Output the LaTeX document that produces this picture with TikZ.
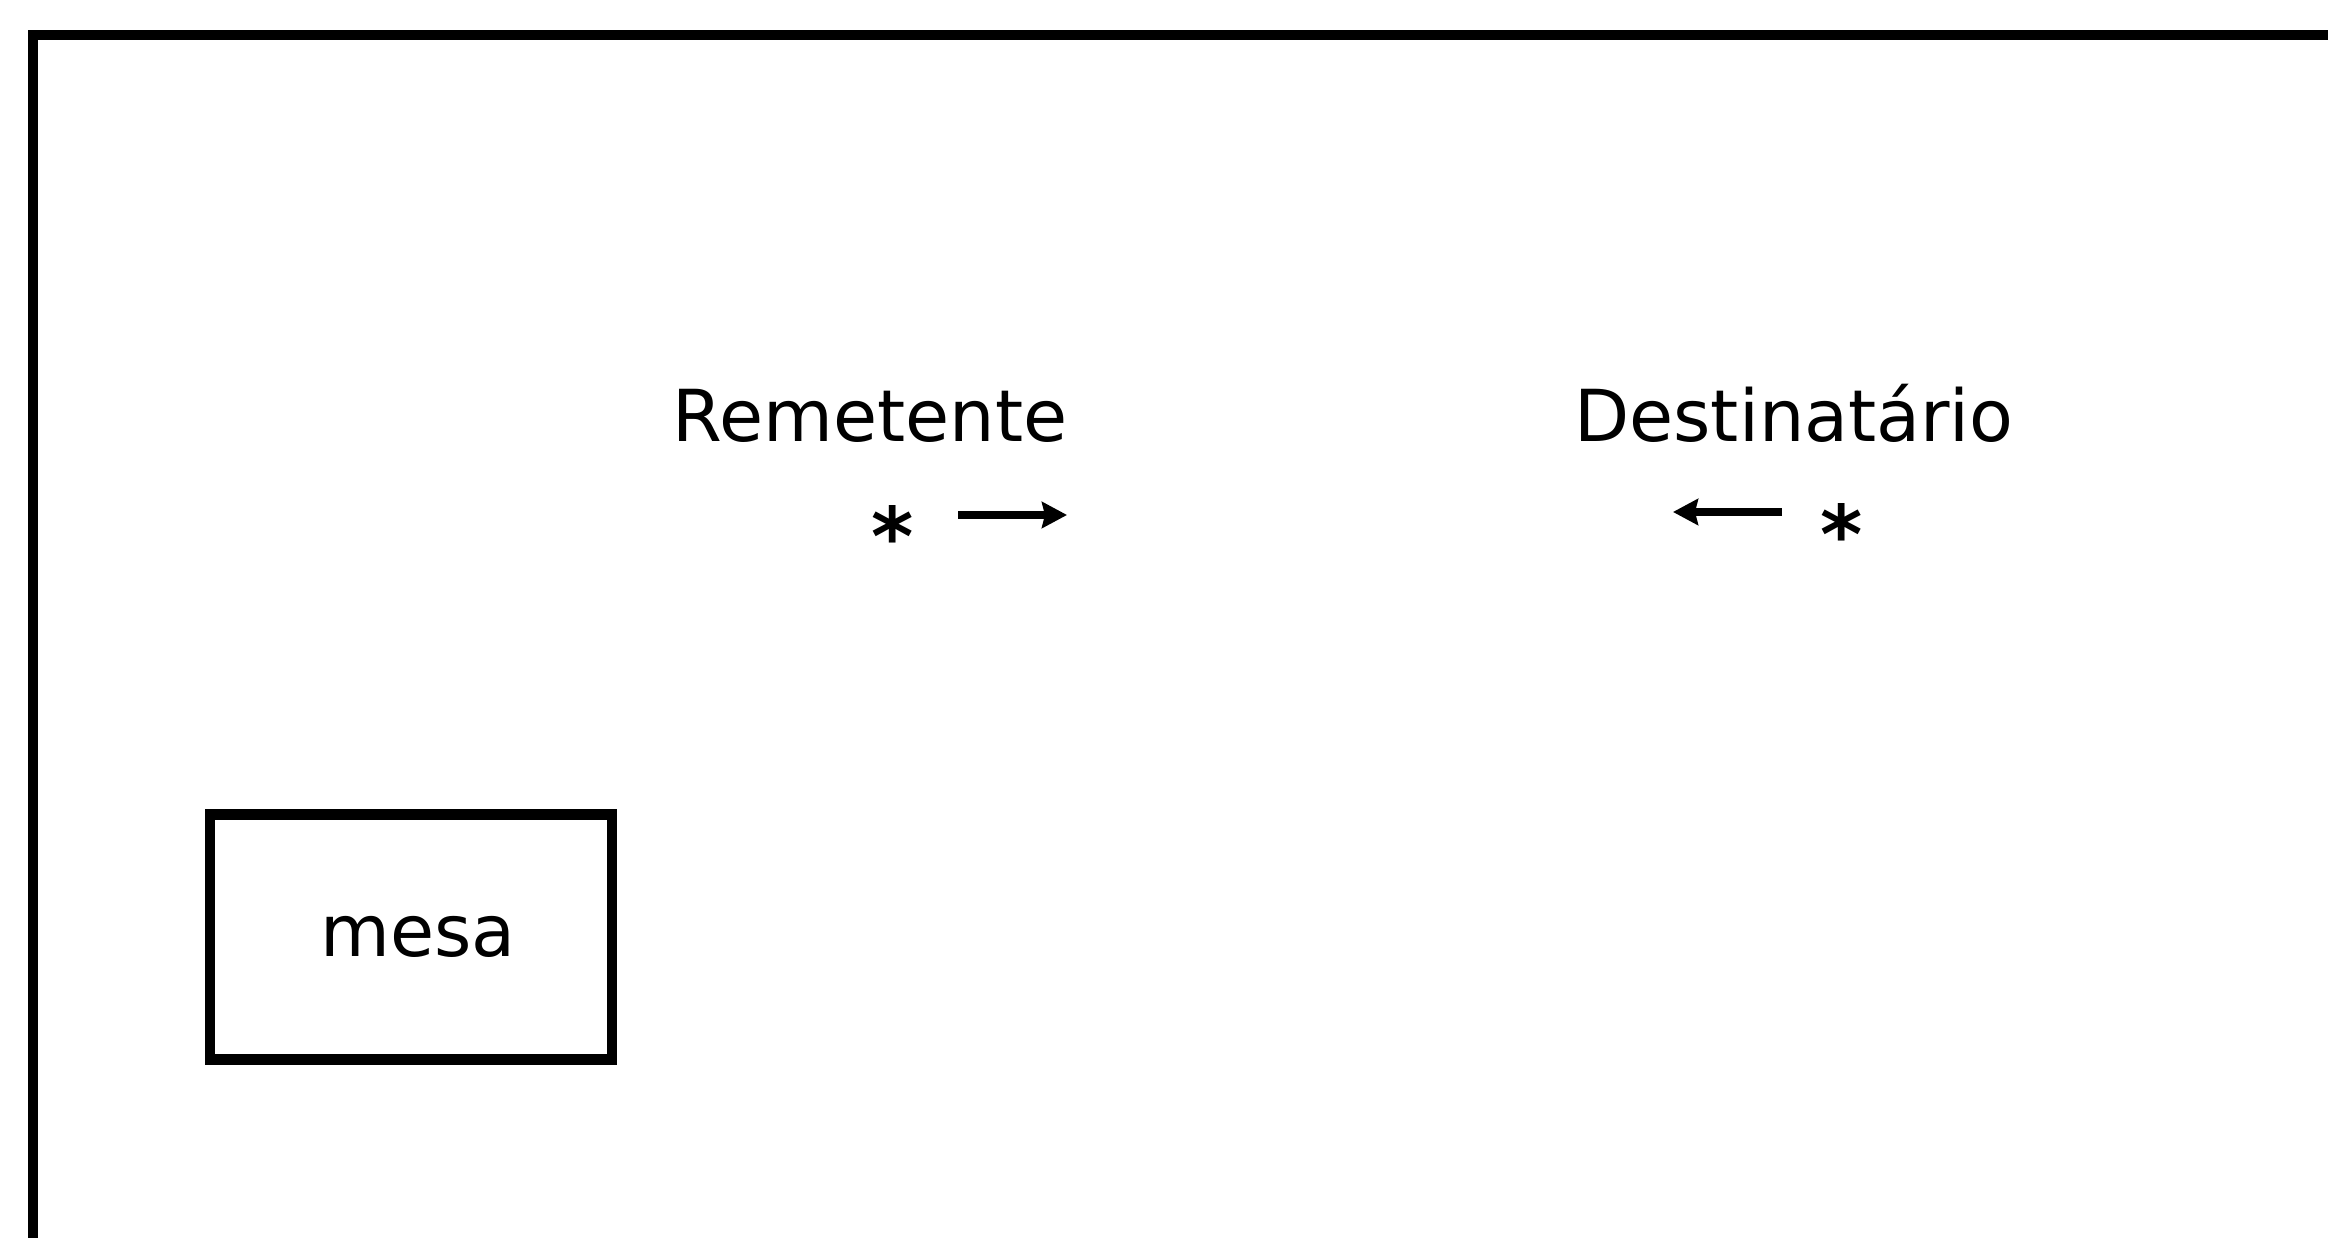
\documentclass[tikz,border=0pt]{standalone}
\usepackage{fontspec}
\setmainfont{DejaVu Sans}
\usepackage{tikz}
\usetikzlibrary{arrows.meta,positioning}
\tikzstyle{flow} = [line width=2.4pt,-{Stealth[length=0.25cm,width=0.26cm,inset=0.03cm]}]
\tikzstyle{role} = [inner sep=0pt, anchor=base, font=\fontsize{20.4}{24}\selectfont]
\tikzstyle{person} = [inner sep=0pt, font=\fontsize{23}{24}\selectfont\bfseries]
\tikzstyle{furniture} = [rectangle, draw, line width=2.85pt, minimum width=4.02cm, minimum height=2.45cm, inner sep=0pt, font=\fontsize{20.4}{24}\selectfont]
\tikzstyle{room} = [line width=2.85pt]

\begin{document}
\begin{tikzpicture}
\useasboundingbox (0,0) rectangle (23.28,12.38);

% Room walls
\draw[room] (0.33,-1) -- (0.33,12.03) -- (24,12.03);

% Sender
\node[role] (sender) at (8.70,7.96) {Remetente};
\node[person] (astL) at (8.93,7.02) {*};
\coordinate (sendTail) at (9.58,7.23);
\coordinate (sendTip) at (10.67,7.23);
\draw[flow] (sendTail) -- (sendTip);

% Receiver
\node[role] (receiver) at (17.94,7.96) {Destinatário};
\node[person] (astR) at (18.42,7.04) {*};
\coordinate (recvTail) at (17.82,7.26);
\coordinate (recvTip) at (16.73,7.26);
\draw[flow] (recvTail) -- (recvTip);

% Table
\node[furniture] (table) at (4.11,3.01) {\hspace*{0.14cm}mesa};
\end{tikzpicture}
\end{document}
